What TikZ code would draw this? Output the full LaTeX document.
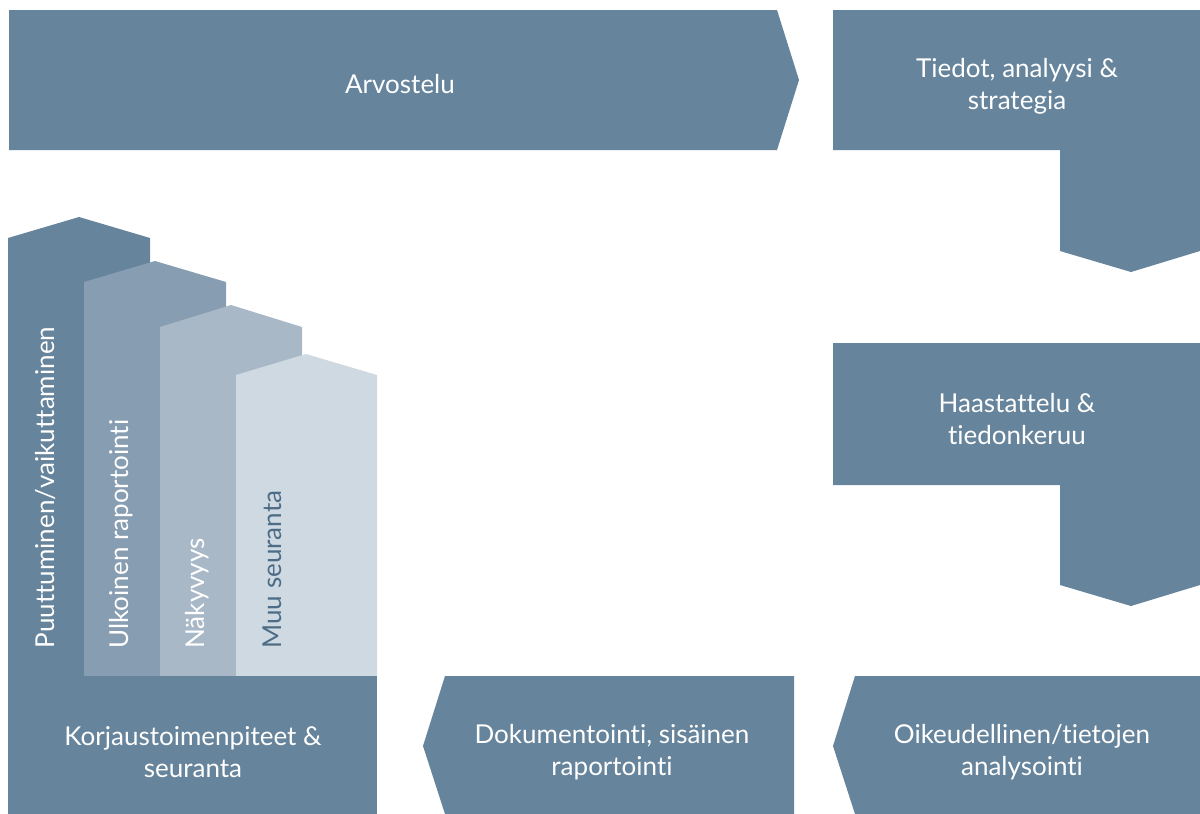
\documentclass[tikz,border=0pt]{standalone}
\usepackage{fontspec}
\setmainfont{Lato}[Ligatures=CommonOff]
\definecolor{stepblue}{HTML}{66849B}
\definecolor{colblueb}{HTML}{879DB1}
\definecolor{colbluec}{HTML}{A8B8C7}
\definecolor{colblued}{HTML}{CFD9E2}
\definecolor{darktext}{HTML}{4D6C85}
\tikzset{every picture/.style={line width=0.75pt}}
\tikzset{
  lbl/.style={inner sep=0.75pt, align=center, text=white, font=\fontsize{19.5}{24}\selectfont},
  vlbl/.style={inner sep=0.75pt, anchor=west, rotate=90, font=\fontsize{19.5}{24}\selectfont}
}

\begin{document}
\begin{tikzpicture}[x=0.75pt,y=0.75pt,yscale=-1,xscale=1]
\useasboundingbox (0,0) rectangle (1200,814);

%Shape: Chevron right [id:arvostelu]
\fill [stepblue] (9,10) -- (777,10) -- (799,80) -- (777,150) -- (9,150) -- cycle ;
%Shape: Box with down arrow [id:tiedot]
\fill [stepblue] (833,10) -- (1200,10) -- (1200,251) -- (1131,272) -- (1060,251) -- (1060,150) -- (833,150) -- cycle ;
%Shape: Box with down arrow [id:haastattelu]
\fill [stepblue] (833,343) -- (1200,343) -- (1200,585) -- (1131,606) -- (1060,585) -- (1060,485) -- (833,485) -- cycle ;
%Shape: Chevron left [id:oikeudellinen]
\fill [stepblue] (855,676) -- (1200,676) -- (1200,814) -- (855,814) -- (833,746) -- cycle ;
%Shape: Chevron left [id:dokumentointi]
\fill [stepblue] (445,676) -- (794,676) -- (794,814) -- (445,814) -- (423,746) -- cycle ;

%Shape: Column [id:puuttuminen]
\fill [stepblue] (8,238) -- (79,217) -- (150,238) -- (150,676) -- (8,676) -- cycle ;
%Shape: Column [id:ulkoinen]
\fill [colblueb] (84,282) -- (155,261) -- (226,282) -- (226,676) -- (84,676) -- cycle ;
%Shape: Column [id:nakyvyys]
\fill [colbluec] (160,327) -- (231,305) -- (302,327) -- (302,676) -- (160,676) -- cycle ;
%Shape: Column [id:muu]
\fill [colblued] (236,375) -- (306,354) -- (377,375) -- (377,676) -- (236,676) -- cycle ;
%Shape: Rectangle [id:korjaus]
\fill [stepblue] (8,676) -- (377,676) -- (377,814) -- (8,814) -- cycle ;

% Text Node
\draw (400,84) node [lbl] (arvostelu) {Arvostelu};
% Text Node
\draw (1017,86) node [lbl] (tiedot) {Tiedot, analyysi \&\\strategia};
% Text Node
\draw (1017,419) node [lbl] (haastattelu) {Haastattelu \&\\tiedonkeruu};
% Text Node
\draw (1022,752) node [lbl] (oikeudellinen) {Oikeudellinen/tietojen\\analysointi};
% Text Node
\draw (612,752) node [lbl] (dokumentointi) {Dokumentointi, sisäinen\\raportointi};
% Text Node
\draw (193,752) node [lbl] (korjaus) {Korjaustoimenpiteet \&\\seuranta};
% Text Node
\draw (46,650) node [vlbl, text=white] (puuttuminen) {Puuttuminen/vaikuttaminen};
% Text Node
\draw (121,650) node [vlbl, text=white] (ulkoinen) {Ulkoinen raportointi};
% Text Node
\draw (197,650) node [vlbl, text=white] (nakyvyys) {Näkyvyys};
% Text Node
\draw (272,650) node [vlbl, text=darktext] (muu) {Muu seuranta};
\end{tikzpicture}
\end{document}
